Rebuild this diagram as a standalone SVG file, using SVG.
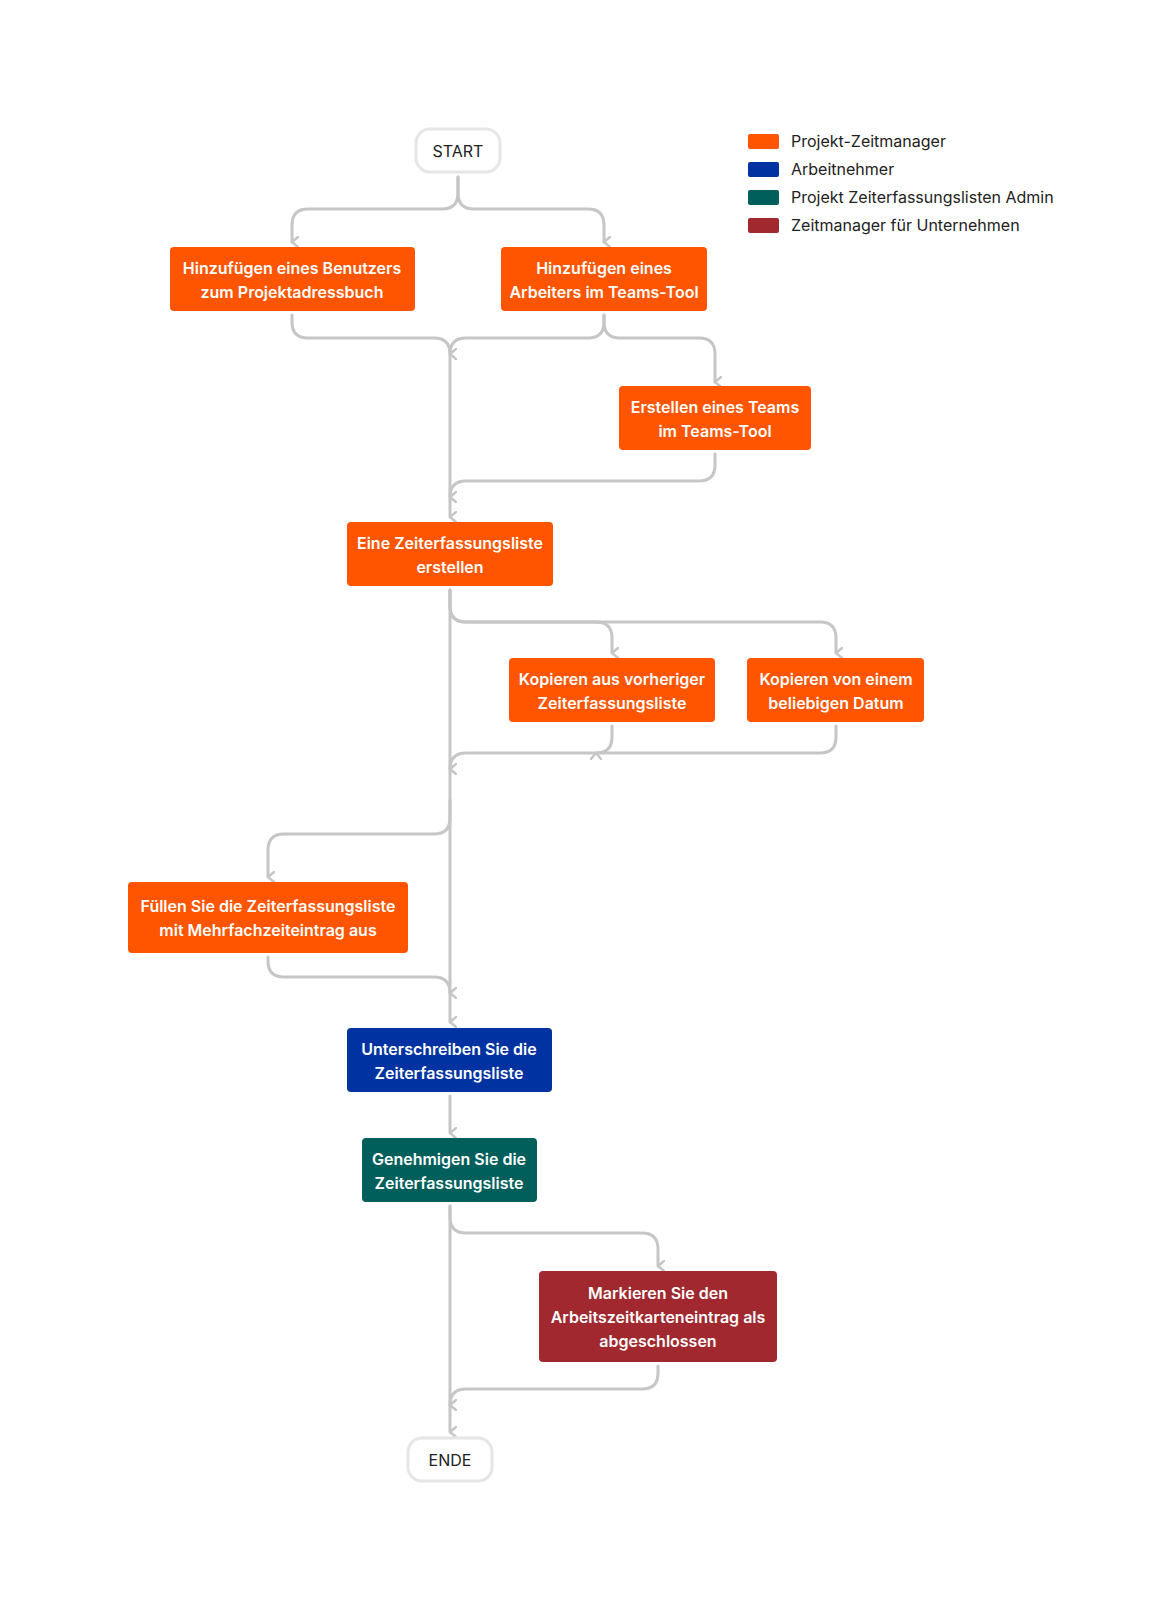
<svg xmlns="http://www.w3.org/2000/svg" width="1176" height="1610" viewBox="0 0 1176 1610">
<style>
.c{fill:none;stroke:#c6c6c6;stroke-width:3;stroke-linecap:round;stroke-linejoin:round}
.t{font-family:Inter,"Liberation Sans",sans-serif;font-size:16px;font-weight:600;fill:#fff;text-anchor:middle}
.s{font-family:Inter,"Liberation Sans",sans-serif;font-size:16px;fill:#222;text-anchor:middle}
.l{font-family:Inter,"Liberation Sans",sans-serif;font-size:16px;fill:#222}
.o{fill:#ff5500}.b{fill:#0033a1}.g{fill:#005f5b}.r{fill:#a0282e}
.term{fill:#fff;stroke:#e6e6e6;stroke-width:3}
</style>
<defs>
<marker id="a" viewBox="0 0 12 8" refX="6" refY="7" markerWidth="12" markerHeight="8" markerUnits="userSpaceOnUse" orient="auto-start-reverse">
<path d="M1,1 L6,7 L11,1" fill="none" stroke="#c6c6c6" stroke-width="2.5" stroke-linecap="round" stroke-linejoin="round"/>
</marker>
</defs>
<rect width="1176" height="1610" fill="#fff"/>
<g id="legend">
<rect x="748" y="134" width="31" height="15" rx="2" class="o"/><text x="791" y="147" class="l">Projekt-Zeitmanager</text>
<rect x="748" y="162" width="31" height="15" rx="2" class="b"/><text x="791" y="175" class="l">Arbeitnehmer</text>
<rect x="748" y="190" width="31" height="15" rx="2" class="g"/><text x="791" y="203" class="l">Projekt Zeiterfassungslisten Admin</text>
<rect x="748" y="218" width="31" height="15" rx="2" class="r"/><text x="791" y="231" class="l">Zeitmanager für Unternehmen</text>
</g>
<g id="connectors" marker-end="url(#a)">
<path class="c" d="M458,177 V193 Q458,209 442,209 H308 Q292,209 292,225 V242" marker-end="url(#a)"/>
<path class="c" d="M458,177 V193 Q458,209 474,209 H588 Q604,209 604,225 V242" marker-end="url(#a)"/>
<path class="c" d="M292,315 V322 Q292,338 308,338 H434 Q450,338 450,354"/>
<path class="c" d="M604,315 V322 Q604,338 588,338 H466 Q450,338 450,354 V517" marker-end="url(#a)"/>
<path class="c" d="M604,315 V322 Q604,338 620,338 H699 Q715,338 715,354 V382" marker-end="url(#a)"/>
<path class="c" d="M715,454 V465 Q715,481 699,481 H466 Q450,481 450,497"/>
<path class="c" d="M450,590 V1022" marker-end="url(#a)"/>
<path class="c" d="M450,590 V606 Q450,622 466,622 H596 Q612,622 612,638 V653" marker-end="url(#a)"/>
<path class="c" d="M450,590 V606 Q450,622 466,622 H820 Q836,622 836,638 V653" marker-end="url(#a)"/>
<path class="c" d="M612,726 V737 Q612,753 596,753 H466 Q450,753 450,769"/>
<path class="c" d="M836,726 V737 Q836,753 820,753 H596"/>
<path class="c" d="M450,800 V818 Q450,834 434,834 H284 Q268,834 268,850 V877" marker-end="url(#a)"/>
<path class="c" d="M268,957 V961 Q268,977 284,977 H434 Q450,977 450,993"/>
<path class="c" d="M450,1096 V1133" marker-end="url(#a)"/>
<path class="c" d="M450,1206 V1432" marker-end="url(#a)"/>
<path class="c" d="M450,1206 V1217 Q450,1233 466,1233 H642 Q658,1233 658,1249 V1266" marker-end="url(#a)"/>
<path class="c" d="M658,1366 V1373 Q658,1389 642,1389 H466 Q450,1389 450,1405"/>
</g>
<g id="start"><rect x="416" y="129" width="84" height="43" rx="14" class="term"/><text x="458" y="157" class="s">START</text></g>
<g id="n1"><rect x="170" y="247" width="245" height="64" rx="4" class="o"/><text x="292" y="274" class="t">Hinzufügen eines Benutzers</text><text x="292" y="298" class="t">zum Projektadressbuch</text></g>
<g id="n2"><rect x="501" y="247" width="206" height="64" rx="4" class="o"/><text x="604" y="274" class="t">Hinzufügen eines</text><text x="604" y="298" class="t">Arbeiters im Teams-Tool</text></g>
<g id="n3"><rect x="619" y="386" width="192" height="64" rx="4" class="o"/><text x="715" y="413" class="t">Erstellen eines Teams</text><text x="715" y="437" class="t">im Teams-Tool</text></g>
<g id="n4"><rect x="347" y="522" width="206" height="64" rx="4" class="o"/><text x="450" y="549" class="t">Eine Zeiterfassungsliste</text><text x="450" y="573" class="t">erstellen</text></g>
<g id="n5"><rect x="509" y="658" width="206" height="64" rx="4" class="o"/><text x="612" y="685" class="t">Kopieren aus vorheriger</text><text x="612" y="709" class="t">Zeiterfassungsliste</text></g>
<g id="n6"><rect x="747" y="658" width="177" height="64" rx="4" class="o"/><text x="836" y="685" class="t">Kopieren von einem</text><text x="836" y="709" class="t">beliebigen Datum</text></g>
<g id="n7"><rect x="128" y="882" width="280" height="71" rx="4" class="o"/><text x="268" y="912" class="t">Füllen Sie die Zeiterfassungsliste</text><text x="268" y="936" class="t">mit Mehrfachzeiteintrag aus</text></g>
<g id="n8"><rect x="347" y="1028" width="205" height="64" rx="4" class="b"/><text x="449" y="1055" class="t">Unterschreiben Sie die</text><text x="449" y="1079" class="t">Zeiterfassungsliste</text></g>
<g id="n9"><rect x="362" y="1138" width="175" height="64" rx="4" class="g"/><text x="449" y="1165" class="t">Genehmigen Sie die</text><text x="449" y="1189" class="t">Zeiterfassungsliste</text></g>
<g id="n10"><rect x="539" y="1271" width="238" height="91" rx="4" class="r"/><text x="658" y="1299" class="t">Markieren Sie den</text><text x="658" y="1323" class="t">Arbeitszeitkarteneintrag als</text><text x="658" y="1347" class="t">abgeschlossen</text></g>
<g id="end"><rect x="408" y="1438" width="84" height="43" rx="14" class="term"/><text x="450" y="1466" class="s">ENDE</text></g>
</svg>
